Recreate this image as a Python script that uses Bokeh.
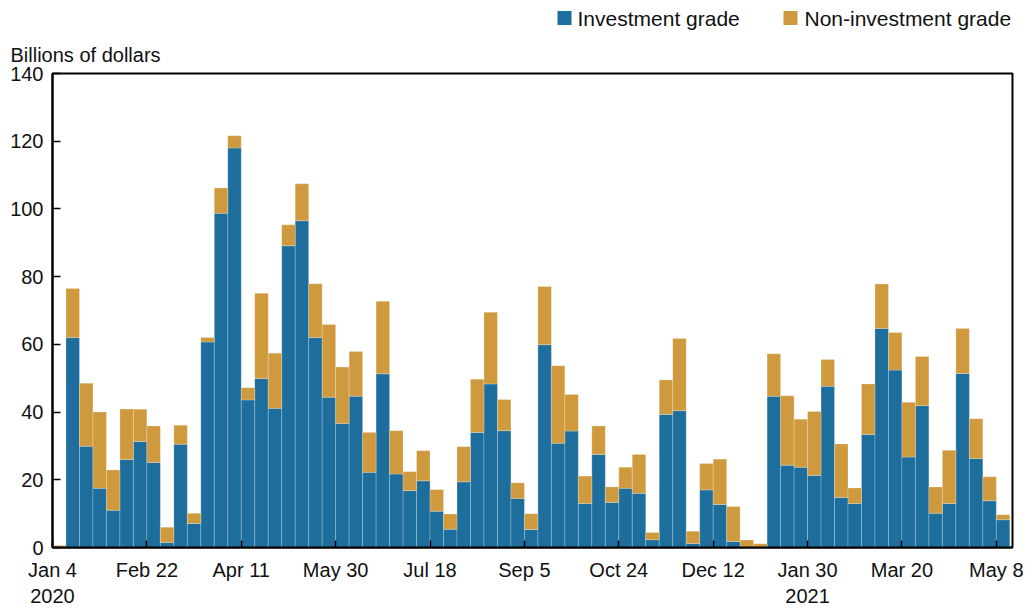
from bokeh.plotting import figure
from bokeh.layouts import column
from bokeh.models import Range1d, FixedTicker, ColumnDataSource
from bokeh.core.properties import value
from bokeh.embed import file_html
from bokeh.resources import INLINE

# Weekly corporate bond issuance, week index 0 = Jan 4 2020 ... 70 = May 8 2021
tick_positions = [0, 7, 14, 21, 28, 35, 42, 49, 56, 63, 70]
tick_labels = ["Jan 4\n2020", "Feb 22", "Apr 11", "May 30", "Jul 18", "Sep 5",
               "Oct 24", "Dec 12", "Jan 30\n2021", "Mar 20", "May 8"]
series_names = ["Investment grade", "Non-investment grade"]

investment_grade = [0.0, 62.0, 29.9, 17.5, 11.0, 26.0, 31.3, 25.1, 1.5, 30.5, 7.1,
                    60.7, 98.7, 118.0, 43.6, 49.9, 41.1, 89.1, 96.5, 62.0, 44.4, 36.6, 44.7,
                    22.2, 51.3, 21.7, 16.8, 19.7, 10.7, 5.4, 19.4, 34.0, 48.3, 34.5, 14.5, 5.3,
                    59.9, 30.8, 34.4, 13.0, 27.5, 13.3, 17.5, 16.0, 2.3, 39.3, 40.4,
                    1.2, 17.0, 12.7, 1.8, 0.0, 0.0,
                    44.7, 24.3, 23.7, 21.3, 47.6, 14.8, 13.0, 33.4, 64.7, 52.4, 26.7, 41.9,
                    10.1, 13.0, 51.4, 26.3, 13.8, 8.2]
non_investment_grade = [0.6, 14.5, 18.6, 22.5, 11.9, 14.9, 9.5, 10.8, 4.5, 5.6, 3.0,
                        1.3, 7.5, 3.6, 3.6, 25.2, 16.3, 6.2, 10.9, 15.9, 21.5, 16.7, 13.2,
                        11.8, 21.4, 12.8, 5.6, 8.9, 6.4, 4.5, 10.4, 15.7, 21.2, 9.2, 4.6, 4.7,
                        17.2, 22.9, 10.8, 8.1, 8.4, 4.6, 6.2, 11.5, 2.1, 10.2, 21.3,
                        3.6, 7.8, 13.4, 10.3, 2.2, 1.1,
                        12.5, 20.5, 14.2, 18.9, 7.9, 15.8, 4.6, 14.9, 13.1, 11.1, 16.2, 14.5,
                        7.8, 15.7, 13.3, 11.7, 7.1, 1.5]
y_ticks = [0, 20, 40, 60, 80, 100, 120, 140]

BLUE = "#1d6d9d"
ORANGE = "#cf9a3d"
FONT = "Liberation Sans"
TXT = "#111111"

LEFT, FRAME_W = 52, 960
HEAD_H = 32

# ---------- header (legend), its frame is aligned with the chart frame ----------
head = figure(frame_width=FRAME_W, width=1029, height=HEAD_H, frame_height=HEAD_H,
              output_backend="svg", toolbar_location=None,
              x_range=Range1d(LEFT, LEFT + FRAME_W), y_range=Range1d(HEAD_H, 0),
              x_axis_location=None, y_axis_location=None,
              min_border_left=LEFT, min_border_right=1029 - LEFT - FRAME_W,
              min_border_top=0, min_border_bottom=0)
head.outline_line_color = None
head.xgrid.visible = False
head.ygrid.visible = False

head.rect(x=[564, 790], y=[17.5, 17.5], width=14, height=14,
          fill_color=[BLUE, ORANGE], line_color=None)
head.text(x=[577, 804], y=[17.5, 17.5], text=series_names,
          text_font=value(FONT), text_font_size="21px", text_color=TXT,
          text_baseline="middle", text_align="left")

# ---------- main chart ----------
n = len(investment_grade)
src = ColumnDataSource(dict(x=[i + 0.5 for i in range(n)],
                            ig=investment_grade, nig=non_investment_grade))

p = figure(frame_width=FRAME_W, frame_height=474, width=1029, height=609 - HEAD_H,
           min_border_left=LEFT, min_border_top=73 - HEAD_H,
           min_border_right=1029 - LEFT - FRAME_W, min_border_bottom=62,
           output_backend="svg", toolbar_location=None,
           x_range=Range1d(0, 71.2), y_range=Range1d(0, 140),
           title="Billions of dollars")

p.vbar_stack(["ig", "nig"], x="x", width=1, source=src,
             fill_color=[BLUE, ORANGE], line_color="white", line_width=0.5, line_alpha=0.45)

p.title.align = "left"
p.title.offset = -42
p.title.standoff = 15
p.title.text_font = FONT
p.title.text_font_size = "20px"
p.title.text_font_style = "normal"
p.title.text_color = TXT

p.xgrid.visible = False
p.ygrid.visible = False
p.outline_line_color = "black"
p.outline_line_width = 2
p.outline_line_alpha = 1

for ax in (p.xaxis, p.yaxis):
    ax.axis_line_width = 2
    ax.axis_line_color = "black"
    ax.major_tick_out = 0
    ax.major_tick_line_width = 1.5
    ax.major_tick_line_color = "black"
    ax.minor_tick_line_color = None
    ax.major_label_text_font = FONT
    ax.major_label_text_font_size = "20px"
    ax.major_label_text_color = TXT

p.xaxis.ticker = FixedTicker(ticks=tick_positions)
p.xaxis.major_label_overrides = {t: l for t, l in zip(tick_positions, tick_labels)}
p.xaxis.major_tick_in = 7
p.xaxis.major_label_standoff = 11

p.yaxis.ticker = FixedTicker(ticks=y_ticks)
p.yaxis.major_tick_in = 8
p.yaxis.major_label_standoff = 9

layout = column(head, p, spacing=0)
open("out.html", "w").write(file_html(layout, INLINE))
